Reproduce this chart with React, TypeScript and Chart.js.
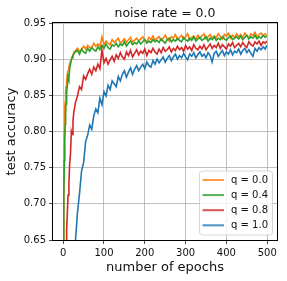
import React, { useEffect, useRef } from "react";
import { Chart, registerables } from "chart.js";

Chart.register(...registerables);

const chartTitle = "noise rate = 0.0";
const xTitle = "number of epochs";
const yTitle = "test accuracy";
const xTicks = [0, 100, 200, 300, 400, 500];
const yTicks = [0.65, 0.7, 0.75, 0.8, 0.85, 0.9, 0.95];

const epochs = [
  0, 1, 2, 3, 4, 5, 6, 7, 8, 9, 10,
  12, 14, 16, 18, 20, 22, 24, 26, 28, 30,
  35, 40, 45, 50, 55, 60, 65, 70, 75, 80,
  85, 90, 95, 100, 105, 110, 115, 120, 125, 130,
  135, 140, 145, 150, 155, 160, 165, 170, 175, 180,
  185, 190, 195, 200, 205, 210, 215, 220, 225, 230,
  235, 240, 245, 250, 255, 260, 265, 270, 275, 280,
  285, 290, 295, 300, 305, 310, 315, 320, 325, 330,
  335, 340, 345, 350, 355, 360, 365, 370, 375, 380,
  385, 390, 395, 400, 405, 410, 415, 420, 425, 430,
  435, 440, 445, 450, 455, 460, 465, 470, 475, 480,
  485, 490, 495, 499,
];

const labels = ["q = 0.0", "q = 0.4", "q = 0.8", "q = 1.0"];
const colors = ["#ff7f0e", "#2ca02c", "#d62728", "#1f77b4"];

const accQ00 = [
  0.50, 0.66, 0.75, 0.80, 0.835, 0.842, 0.856, 0.862, 0.872, 0.868, 0.879,
  0.884, 0.889, 0.894, 0.897, 0.900, 0.904, 0.906, 0.909, 0.911, 0.912,
  0.915, 0.911, 0.913, 0.918, 0.914, 0.919, 0.916, 0.915, 0.922, 0.918,
  0.921, 0.917, 0.931, 0.920, 0.925, 0.922, 0.920, 0.927, 0.923, 0.926,
  0.929, 0.922, 0.925, 0.928, 0.923, 0.927, 0.930, 0.924, 0.926, 0.929,
  0.925, 0.928, 0.931, 0.926, 0.924, 0.930, 0.927, 0.932, 0.926, 0.929,
  0.931, 0.926, 0.929, 0.933, 0.928, 0.925, 0.931, 0.929, 0.934, 0.927,
  0.930, 0.933, 0.928, 0.931, 0.935, 0.927, 0.930, 0.932, 0.928, 0.933,
  0.929, 0.932, 0.935, 0.928, 0.931, 0.934, 0.929, 0.932, 0.930, 0.935,
  0.931, 0.928, 0.934, 0.932, 0.936, 0.929, 0.933, 0.930, 0.935, 0.931,
  0.934, 0.930, 0.936, 0.932, 0.929, 0.935, 0.933, 0.937, 0.931, 0.934,
  0.936, 0.932, 0.935, 0.933,
];

const accQ04 = [
  0.45, 0.60, 0.71, 0.76, 0.79, 0.81, 0.825, 0.838, 0.848, 0.855, 0.862,
  0.876, 0.872, 0.888, 0.893, 0.899, 0.902, 0.905, 0.907, 0.909, 0.910,
  0.912, 0.907, 0.914, 0.910, 0.908, 0.915, 0.911, 0.916, 0.913, 0.911,
  0.917, 0.913, 0.919, 0.915, 0.921, 0.916, 0.914, 0.920, 0.918, 0.922,
  0.917, 0.921, 0.919, 0.924, 0.918, 0.922, 0.925, 0.920, 0.923, 0.921,
  0.925, 0.921, 0.924, 0.927, 0.922, 0.925, 0.923, 0.927, 0.924, 0.926,
  0.923, 0.928, 0.925, 0.922, 0.927, 0.929, 0.924, 0.927, 0.925, 0.929,
  0.926, 0.924, 0.930, 0.927, 0.925, 0.929, 0.926, 0.931, 0.925, 0.928,
  0.930, 0.926, 0.928, 0.931, 0.925, 0.929, 0.927, 0.931, 0.926, 0.929,
  0.927, 0.931, 0.928, 0.926, 0.930, 0.932, 0.927, 0.929, 0.931, 0.928,
  0.932, 0.927, 0.930, 0.933, 0.928, 0.931, 0.929, 0.933, 0.928, 0.931,
  0.929, 0.933, 0.930, 0.932,
];

const accQ08 = [
  0.30, 0.38, 0.45, 0.50, 0.54, 0.58, 0.61, 0.63, 0.65, 0.664, 0.685,
  0.712, 0.728, 0.757, 0.770, 0.800, 0.796, 0.815, 0.826, 0.833, 0.840,
  0.849, 0.862, 0.858, 0.877, 0.872, 0.880, 0.886, 0.879, 0.889, 0.884,
  0.893, 0.887, 0.913, 0.895, 0.901, 0.893, 0.899, 0.904, 0.897, 0.906,
  0.901, 0.909, 0.903, 0.900, 0.910, 0.905, 0.912, 0.903, 0.908, 0.913,
  0.906, 0.911, 0.908, 0.914, 0.905, 0.912, 0.909, 0.915, 0.910, 0.907,
  0.914, 0.909, 0.916, 0.911, 0.913, 0.917, 0.910, 0.915, 0.912, 0.918,
  0.913, 0.916, 0.911, 0.919, 0.914, 0.917, 0.912, 0.920, 0.915, 0.913,
  0.918, 0.914, 0.920, 0.913, 0.917, 0.921, 0.915, 0.919, 0.916, 0.922,
  0.915, 0.920, 0.917, 0.914, 0.921, 0.918, 0.923, 0.916, 0.919, 0.922,
  0.917, 0.923, 0.919, 0.916, 0.924, 0.920, 0.918, 0.924, 0.921, 0.925,
  0.919, 0.924, 0.922, 0.925,
];

const accQ10 = [
  0.20, 0.23, 0.26, 0.29, 0.31, 0.33, 0.35, 0.37, 0.38, 0.40, 0.41,
  0.43, 0.46, 0.49, 0.52, 0.545, 0.57, 0.59, 0.61, 0.63, 0.648,
  0.688, 0.714, 0.745, 0.757, 0.786, 0.795, 0.809, 0.803, 0.822, 0.831,
  0.826, 0.846, 0.837, 0.855, 0.849, 0.864, 0.858, 0.870, 0.866, 0.862,
  0.876, 0.870, 0.879, 0.884, 0.875, 0.882, 0.888, 0.879, 0.886, 0.891,
  0.884, 0.889, 0.893, 0.887, 0.896, 0.891, 0.889, 0.898, 0.893, 0.900,
  0.895, 0.899, 0.903, 0.896, 0.901, 0.905, 0.898, 0.903, 0.907, 0.900,
  0.905, 0.902, 0.908, 0.903, 0.899, 0.907, 0.904, 0.909, 0.902, 0.906,
  0.910, 0.904, 0.907, 0.902, 0.909, 0.905, 0.896, 0.908, 0.911, 0.904,
  0.908, 0.912, 0.905, 0.910, 0.907, 0.913, 0.906, 0.911, 0.909, 0.914,
  0.907, 0.912, 0.915, 0.909, 0.913, 0.908, 0.904, 0.915, 0.911, 0.916,
  0.913, 0.917, 0.914, 0.919,
];

const series = [accQ00, accQ04, accQ08, accQ10];

const FONT = "'DejaVu Sans', sans-serif";

const framePlugin = {
  id: "frameTitleLegend",
  afterDraw(chart: any) {
    const { ctx, chartArea } = chart;
    const { left, right, top, bottom } = chartArea;
    ctx.save();
    ctx.strokeStyle = "#000";
    ctx.lineWidth = 1;
    ctx.strokeRect(Math.round(left) - 0.5, Math.round(top) - 0.5, Math.round(right) - Math.round(left) + 1, Math.round(bottom) - Math.round(top) + 1);
    ctx.fillStyle = "#111";
    ctx.font = `12.5px ${FONT}`;
    ctx.textAlign = "center";
    ctx.textBaseline = "middle";
    ctx.fillText(chartTitle, (left + right) / 2, 13.5);
    const bw = 73;
    const bh = 64;
    const bx = right - 4.5 - bw;
    const by = bottom - 5 - bh;
    const r = 3;
    ctx.beginPath();
    ctx.moveTo(bx + r, by);
    ctx.lineTo(bx + bw - r, by);
    ctx.arcTo(bx + bw, by, bx + bw, by + r, r);
    ctx.lineTo(bx + bw, by + bh - r);
    ctx.arcTo(bx + bw, by + bh, bx + bw - r, by + bh, r);
    ctx.lineTo(bx + r, by + bh);
    ctx.arcTo(bx, by + bh, bx, by + bh - r, r);
    ctx.lineTo(bx, by + r);
    ctx.arcTo(bx, by, bx + r, by, r);
    ctx.closePath();
    ctx.fillStyle = "rgba(255,255,255,0.8)";
    ctx.fill();
    ctx.strokeStyle = "rgba(204,204,204,0.8)";
    ctx.lineWidth = 1;
    ctx.stroke();
    chart.data.datasets.forEach((ds: any, i: number) => {
      const y = by + 9 + i * 15.1;
      ctx.globalAlpha = 0.8;
      ctx.strokeStyle = ds.borderColor;
      ctx.lineWidth = 2;
      ctx.beginPath();
      ctx.moveTo(bx + 3, y);
      ctx.lineTo(bx + 24.5, y);
      ctx.stroke();
      ctx.globalAlpha = 1;
      ctx.fillStyle = "#111";
      ctx.font = `10px ${FONT}`;
      ctx.textAlign = "left";
      ctx.textBaseline = "middle";
      ctx.fillText(ds.label, bx + 31.5, y + 0.5);
    });
    ctx.restore();
  },
};

export default function App() {
  const canvasRef = useRef<HTMLCanvasElement | null>(null);

  useEffect(() => {
    if (!canvasRef.current) return;
    const datasets = series.map((vals, i) => ({
      label: labels[i],
      data: epochs.map((e, j) => ({ x: e, y: vals[j] })),
      borderColor: colors[i],
      backgroundColor: colors[i],
      borderWidth: 1.6,
      pointRadius: 0,
      tension: 0,
      fill: false,
      order: series.length - 1 - i,
    }));

    const chart = new Chart(canvasRef.current, {
      type: "line",
      data: { datasets },
      options: {
        animation: false,
        responsive: false,
        devicePixelRatio: 1,
        events: [],
        layout: { padding: { top: 23, right: 10, bottom: 0, left: 0 } },
        plugins: {
          legend: { display: false },
          title: { display: false },
          tooltip: { enabled: false },
        },
        scales: {
          x: {
            type: "linear",
            min: -24.95,
            max: 523.95,
            afterBuildTicks: (s: any) => {
              s.ticks = xTicks.map((v) => ({ value: v }));
            },
            afterFit: (s: any) => {
              s.height = 41;
            },
            border: { display: false },
            grid: {
              color: "#b0b0b0",
              lineWidth: 0.8,
              tickColor: "#222",
              tickLength: 4,
              tickWidth: 0.8,
            },
            ticks: {
              font: { family: FONT, size: 10 },
              color: "#111",
              padding: 3,
              maxRotation: 0,
              autoSkip: false,
              callback: (v: any) => String(v),
            },
            title: {
              display: true,
              text: xTitle,
              color: "#111",
              font: { family: FONT, size: 13, lineHeight: 1 },
              padding: { top: 0, bottom: 7 },
            },
          },
          y: {
            type: "linear",
            min: 0.65,
            max: 0.95,
            afterBuildTicks: (s: any) => {
              s.ticks = yTicks.map((v) => ({ value: v }));
            },
            afterFit: (s: any) => {
              s.width = 53;
            },
            border: { display: false },
            grid: {
              color: "#b0b0b0",
              lineWidth: 0.8,
              tickColor: "#222",
              tickLength: 4,
              tickWidth: 0.8,
            },
            ticks: {
              font: { family: FONT, size: 10 },
              color: "#111",
              padding: 3,
              autoSkip: false,
              callback: (v: any) => Number(v).toFixed(2),
            },
            title: {
              display: true,
              text: yTitle,
              color: "#111",
              font: { family: FONT, size: 13, lineHeight: 1 },
              padding: { top: 5.5, bottom: 0 },
            },
          },
        },
      },
      plugins: [framePlugin],
    } as any);

    return () => chart.destroy();
  }, []);

  return (
    <div style={{ position: "absolute", left: 0, top: 0, width: 287, height: 281, background: "#fff" }}>
      <canvas ref={canvasRef} width={287} height={281} style={{ width: 287, height: 281, display: "block" }} />
    </div>
  );
}
